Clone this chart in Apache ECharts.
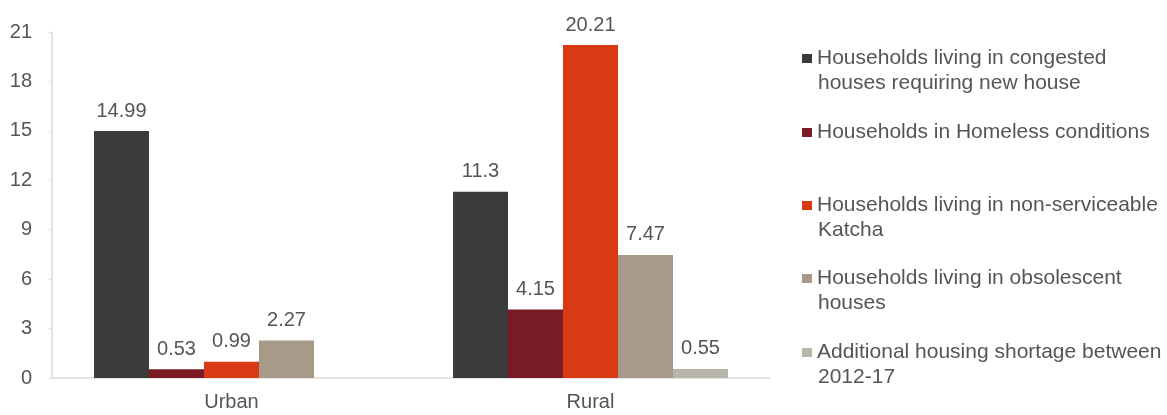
<!DOCTYPE html>
<html>
<head>
<meta charset="utf-8">
<script src="https://cdn.jsdelivr.net/npm/echarts@6/dist/echarts.min.js"></script>
<style>html,body{margin:0;padding:0;background:#fff}#c{width:1167px;height:415px}</style>
</head>
<body>
<div id="c"></div>
<script>
const categories = ['Urban', 'Rural'];
const seriesNames = [
  'Households living in congested\nhouses requiring new house',
  'Households in Homeless conditions',
  'Households living in non-serviceable\nKatcha',
  'Households living in obsolescent\nhouses',
  'Additional housing shortage between\n2012-17'
];
const congested = [14.99, 11.3];
const homeless = [0.53, 4.15];
const katcha = [0.99, 20.21];
const obsolescent = [2.27, 7.47];
const additional = [null, 0.55];
const yTicks = [0, 3, 6, 9, 12, 15, 18, 21];

const colors = ['#3b3b3b', '#7a1c26', '#d83a14', '#a89a88', '#b8b5ab'];
const values = [congested, homeless, katcha, obsolescent, additional];
const legendTops = [46, 120, 193, 266, 340];
const secondLineY = [83, null, 230, 303, 377];

const chart = echarts.init(document.getElementById('c'), null, {renderer: 'canvas'});
const font = '"Liberation Sans", Arial, sans-serif';
const textColor = '#555';
const legendFont = 21;

const graphics = [];
seriesNames.forEach((n, i) => {
  const parts = n.split('\n');
  if (parts[1] && secondLineY[i] != null) {
    graphics.push({
      type: 'text', left: 818, top: secondLineY[i] - 10, silent: true,
      style: {text: parts[1], fill: textColor, font: legendFont + 'px ' + font}
    });
  }
});

const option = {
  animation: false,
  backgroundColor: '#fff',
  textStyle: {fontFamily: font},
  grid: {left: 52, right: 397, top: 32, bottom: 37},
  legend: seriesNames.map((n, i) => ({
    data: [n],
    left: 802,
    top: legendTops[i],
    itemWidth: 10,
    itemHeight: 9,
    icon: 'rect',
    selectedMode: false,
    padding: 0,
    formatter: name => name.split('\n')[0],
    textStyle: {fontFamily: font, fontSize: legendFont, color: textColor, lineHeight: 25}
  })),
  graphic: graphics,
  xAxis: {
    type: 'category',
    data: categories,
    axisLine: {lineStyle: {color: '#dcdcdc', width: 1.5}},
    axisTick: {show: false},
    axisLabel: {fontSize: 20, color: textColor, margin: 14}
  },
  yAxis: {
    type: 'value',
    min: yTicks[0],
    max: yTicks[yTicks.length - 1],
    interval: 3,
    splitLine: {show: false},
    axisLine: {show: true, lineStyle: {color: '#dcdcdc', width: 1.5}},
    axisTick: {show: true, length: 3, lineStyle: {color: '#dcdcdc'}},
    axisLabel: {fontSize: 20, color: textColor, margin: 20}
  },
  series: seriesNames.map((n, i) => ({
    name: n,
    type: 'bar',
    data: values[i],
    barWidth: 55,
    barGap: '0%',
    itemStyle: {color: colors[i]},
    label: {show: true, position: 'top', distance: 10, fontSize: 20, color: textColor, fontFamily: font}
  }))
};
chart.setOption(option);
</script>
</body>
</html>
